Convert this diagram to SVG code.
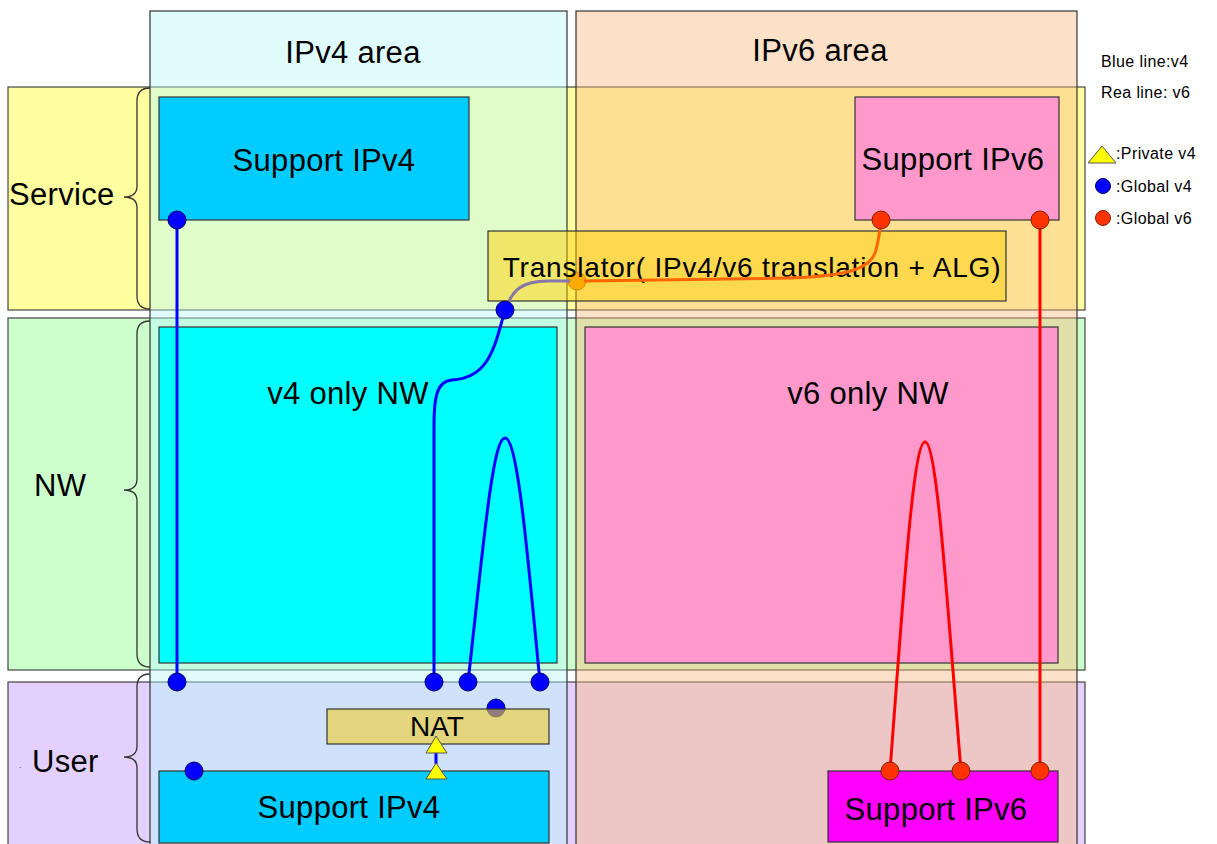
<svg xmlns="http://www.w3.org/2000/svg" width="1217" height="844" viewBox="0 0 1217 844">
<defs>
<style>
text{font-family:"Liberation Sans",Arial,sans-serif;fill:#000}
.band{stroke:#444;stroke-width:1.2}
.col{stroke:#333;stroke-width:1.2;fill-opacity:0.44}
.box{stroke:#333;stroke-width:1.2}
.brace{fill:none;stroke:#333;stroke-width:1.3}
.big{font-size:31px;letter-spacing:0.3px}
.mid{font-size:28px;letter-spacing:0.8px}
.leg{font-size:16px;letter-spacing:0.4px}
.bl{fill:none;stroke:#0000ff;stroke-width:3}
.rl{fill:none;stroke:#ff0000;stroke-width:3}
.bd{fill:#0000ff;stroke:#000060;stroke-width:1}
.rd{fill:#ff3300;stroke:#802000;stroke-width:1}
.tri{fill:#ffff00;stroke:#555;stroke-width:1}
</style>
</defs>
<rect width="1217" height="844" fill="#fff"/>
<g id="bands">
<g id="band-service"><rect class="band" x="8" y="87" width="1077" height="223" fill="#ffffa0"/>
<path class="brace" d="M150,88 Q137,88 137,101 L137,186 Q137,197 124,197 Q137,197 137,208 L137,296 Q137,309 150,309"/>
<text class="big" x="9" y="205">Service</text></g>
<g id="band-nw"><rect class="band" x="8" y="318" width="1077" height="352" fill="#ccffcc"/>
<path class="brace" d="M150,321 Q137,321 137,334 L137,479 Q137,490 124,490 Q137,490 137,501 L137,654 Q137,667 150,667"/>
<text class="big" x="34" y="496">NW</text></g>
<g id="band-user"><rect class="band" x="8" y="682" width="1077" height="170" fill="#e3d0fc"/>
<path class="brace" d="M150,674 Q137,674 137,687 L137,746 Q137,757 124,757 Q137,757 137,768 L137,829 Q137,842 150,842"/>
<text class="big" x="32" y="772">User</text>
<text x="19" y="768" font-size="8px">.</text></g>
</g>
<g id="columns">
<g id="col-ipv4"><rect class="col" x="150" y="11" width="417" height="845" fill="#b8f8fa"/>
<text class="big" x="353" y="63" text-anchor="middle">IPv4 area</text></g>
<g id="col-ipv6"><rect class="col" x="576" y="11" width="501" height="845" fill="#fab982"/>
<text class="big" x="820" y="61" text-anchor="middle">IPv6 area</text></g>
</g>
<g id="node-support-ipv4-svc"><rect class="box" x="159" y="97" width="310" height="123" fill="#00ccff"/>
<text class="big" x="324" y="171" text-anchor="middle">Support IPv4</text></g>
<g id="node-support-ipv6-svc"><rect class="box" x="855" y="97" width="204" height="123" fill="#ff99cc"/>
<text class="big" x="953" y="170" text-anchor="middle">Support IPv6</text></g>
<g id="node-v4nw"><rect class="box" x="159" y="327" width="398" height="336" fill="#00ffff"/>
<text class="big" x="348" y="404" text-anchor="middle">v4 only NW</text></g>
<g id="node-v6nw"><rect class="box" x="585" y="327" width="473" height="336" fill="#ff99cc"/>
<text class="big" x="868" y="404" text-anchor="middle">v6 only NW</text></g>
<g id="node-support-ipv4-user"><rect class="box" x="159" y="771" width="390" height="72" fill="#00ccff"/>
<text class="big" x="349" y="818" text-anchor="middle">Support IPv4</text></g>
<g id="node-support-ipv6-user"><rect class="box" x="828" y="771" width="230" height="71" fill="#ff00ff"/>
<text class="big" x="936" y="820" text-anchor="middle">Support IPv6</text></g>
<g id="connectors">
<path class="bl" d="M177,220 L177,682"/>
<path class="bl" d="M505,310 C495,345 490,378 452,380 C436,381 434,400 434,425 L434,682"/>
<path class="bl" d="M468,682 C482,560 492,438 505,438 C518,438 528,560 540,682"/>
<path class="bl" d="M436,753 L436,764"/>
<path class="rl" d="M1040,220 L1040,771"/>
<path class="rl" d="M890,771 C903,600 913,442 925,442 C937,442 947,600 961,771"/>
<circle class="bd" cx="496" cy="708" r="9"/>
<circle cx="577" cy="281" r="9" fill="#ff8800" stroke="#a06000" stroke-width="1"/>
</g>
<g id="node-translator"><rect class="box" x="488" y="231" width="518" height="70" fill="#ffce00" fill-opacity="0.47"/>
<text class="mid" x="752" y="277" text-anchor="middle">Translator( IPv4/v6 translation + ALG)</text></g>
<g id="connectors-top">
<path d="M505,310 C512,290 522,281 548,281 L570,281" fill="none" stroke="#8878a8" stroke-width="3"/>
<path d="M584,281 L790,278 C850,276 872,268 876,250 C879,238 880,230 881,220" fill="none" stroke="#ff6600" stroke-width="3"/>
</g>
<g id="node-nat"><rect class="box" x="327" y="709" width="222" height="35" fill="#f0cd2a" fill-opacity="0.6"/>
<text class="mid" x="437" y="736" text-anchor="middle" style="letter-spacing:0">NAT</text></g>
<g id="dots">
<circle class="bd" cx="177" cy="220" r="9"/>
<circle class="bd" cx="177" cy="682" r="9"/>
<circle class="bd" cx="505" cy="310" r="9"/>
<circle class="bd" cx="434" cy="682" r="9"/>
<circle class="bd" cx="468" cy="682" r="9"/>
<circle class="bd" cx="540" cy="682" r="9"/>
<circle class="bd" cx="194" cy="771" r="9"/>
<circle class="rd" cx="881" cy="220" r="9"/>
<circle class="rd" cx="1040" cy="220" r="9"/>
<circle class="rd" cx="890" cy="771" r="9"/>
<circle class="rd" cx="961" cy="771" r="9"/>
<circle class="rd" cx="1040" cy="771" r="9"/>
<polygon class="tri" points="436,736 426,753 447,753"/>
<polygon class="tri" points="436,763 426,779 447,779"/>
</g>
<g id="legend">
<text class="leg" x="1101" y="67">Blue line:v4</text>
<text class="leg" x="1101" y="98">Rea line: v6</text>
<polygon class="tri" points="1102,146 1088,163 1116,163"/>
<text class="leg" x="1116" y="159">:Private v4</text>
<circle class="bd" cx="1103" cy="186" r="7.5"/>
<text class="leg" x="1116" y="192">:Global v4</text>
<circle class="rd" cx="1103" cy="218" r="7.5"/>
<text class="leg" x="1116" y="224">:Global v6</text>
</g>
</svg>
